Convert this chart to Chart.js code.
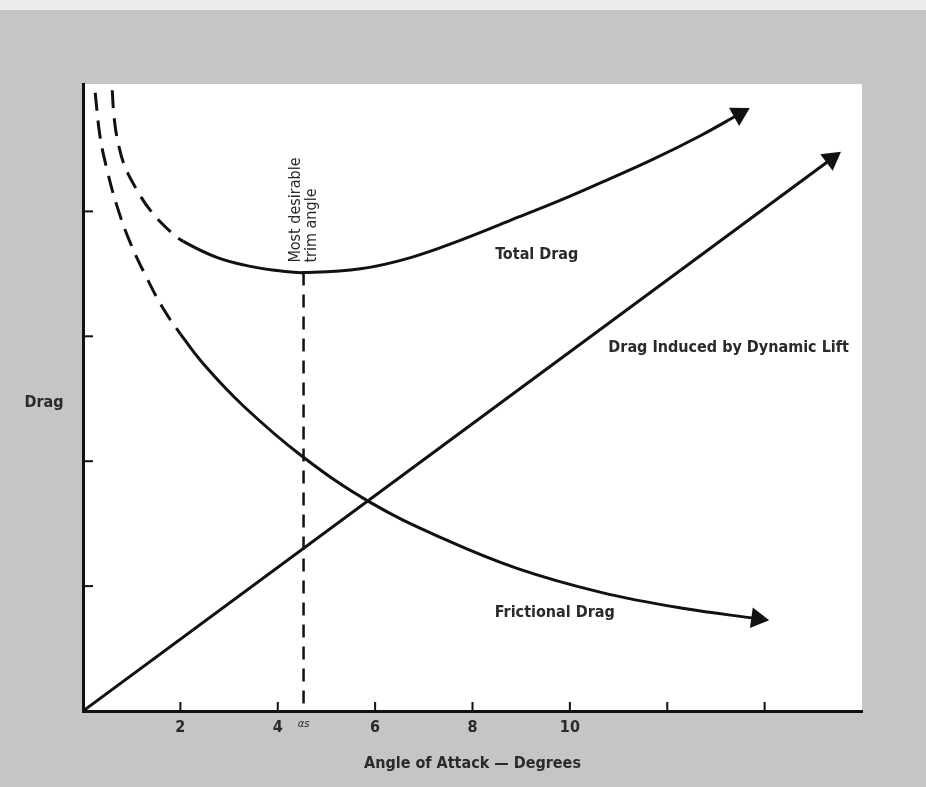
<!DOCTYPE html>
<html>
<head>
<meta charset="utf-8">
<script src="https://cdn.jsdelivr.net/npm/chart.js@4/dist/chart.umd.min.js"></script>
<style>
  html, body { margin: 0; padding: 0; background: #c5c5c5; }
  #wrap { width: 926px; height: 787px; }
</style>
</head>
<body>
<div id="wrap"><canvas id="drag-chart" width="926" height="787"></canvas></div>
<script>
// angle of attack (degrees) and drag
var fricX = [0.25, 0.35, 0.49, 0.70, 0.97, 1.32, 1.65, 2.00, 2.47, 3.30, 4.50, 5.90, 7.40, 8.93, 10.64, 12.35, 13.85];
var fricY = [4.95, 4.60, 4.34, 4.04, 3.75, 3.46, 3.22, 3.02, 2.78, 2.44, 2.04, 1.67, 1.38, 1.14, 0.95, 0.82, 0.74];
var fricDashEnd = 7;

var totX = [0.60, 0.64, 0.72, 0.86, 1.11, 1.38, 1.79, 2.06, 2.76, 3.44, 4.12, 4.53, 5.70, 6.73, 7.76, 8.79, 9.81, 10.64, 11.67, 12.70, 13.48];
var totY = [4.97, 4.75, 4.55, 4.36, 4.17, 4.01, 3.84, 3.76, 3.63, 3.56, 3.52, 3.51, 3.54, 3.63, 3.77, 3.93, 4.09, 4.23, 4.41, 4.61, 4.78];
var totDashEnd = 7;

var liftX = [0, 15.37];
var liftY = [0, 4.42];

var trimAngle = 4.53;
var trimX = [trimAngle, trimAngle];
var trimY = [3.51, 0];

var xTicks = [2, 4, trimAngle, 6, 8, 10, 12, 14];
var xTickLabels = ["2", "4", "αs", "6", "8", "10", "", ""];
var yTicks = [1, 2, 3, 4];

var fam = '"DejaVu Sans Condensed", "DejaVu Sans", sans-serif';
var labelFont = 'bold 16px ' + fam;

function pts(xs, ys) {
  return xs.map(function (x, i) { return { x: x, y: ys[i] }; });
}

// turn the last point into an arrow head pointing along the line
function arrowRot(ctx) {
  var d = ctx.dataset.data, i = ctx.dataIndex;
  if (i < 1) return 0;
  var sx = ctx.chart.scales.x, sy = ctx.chart.scales.y;
  var dx = sx.getPixelForValue(d[i].x) - sx.getPixelForValue(d[i - 1].x);
  var dy = sy.getPixelForValue(d[i].y) - sy.getPixelForValue(d[i - 1].y);
  return Math.atan2(dx, -dy) * 180 / Math.PI;
}
function arrowR(ctx) {
  return ctx.dataIndex === ctx.dataset.data.length - 1 ? 12 : 0;
}

function curve(label, xs, ys, dashEnd) {
  return {
    label: label,
    data: pts(xs, ys),
    borderColor: "#111",
    borderWidth: 3,
    tension: 0.4,
    pointStyle: "triangle",
    pointRadius: arrowR,
    pointRotation: arrowRot,
    pointBackgroundColor: "#111",
    pointBorderWidth: 0,
    segment: {
      borderDash: function (c) { return c.p1DataIndex <= dashEnd ? [18, 10] : undefined; }
    }
  };
}

var bgPlugin = {
  id: "paper",
  beforeDraw: function (chart) {
    var c = chart.ctx, a = chart.chartArea;
    c.save();
    c.fillStyle = "#c5c5c5";
    c.fillRect(0, 0, chart.width, chart.height);
    c.fillStyle = "#ececec";
    c.fillRect(0, 0, chart.width, 10);
    c.fillStyle = "#ffffff";
    c.fillRect(a.left, a.top, a.right - a.left, a.bottom - a.top);
    c.restore();
  }
};

var marksPlugin = {
  id: "marks",
  afterDraw: function (chart) {
    var c = chart.ctx, a = chart.chartArea;
    var sx = chart.scales.x, sy = chart.scales.y;
    c.save();
    c.strokeStyle = "#111";
    c.lineWidth = 2;
    xTicks.forEach(function (v) {
      if (v === trimAngle) return;
      var px = sx.getPixelForValue(v);
      c.beginPath(); c.moveTo(px, a.bottom); c.lineTo(px, a.bottom - 9); c.stroke();
    });
    yTicks.forEach(function (v) {
      var py = sy.getPixelForValue(v);
      c.beginPath(); c.moveTo(a.left, py); c.lineTo(a.left + 10, py); c.stroke();
    });

    c.fillStyle = "#2a2a2a";
    c.font = labelFont;
    c.textAlign = "center";
    c.textBaseline = "middle";
    c.fillText("Total Drag", sx.getPixelForValue(9.32), sy.getPixelForValue(3.65));
    c.fillText("Drag Induced by Dynamic Lift", sx.getPixelForValue(13.26), sy.getPixelForValue(2.91));
    c.fillText("Frictional Drag", sx.getPixelForValue(9.69), sy.getPixelForValue(0.785));
    c.fillText("Drag", 44, sy.getPixelForValue(2.47));

    c.font = '16px ' + fam;
    c.textAlign = "left";
    var base = sy.getPixelForValue(3.59);
    [["Most desirable", 4.37], ["trim angle", 4.70]].forEach(function (t) {
      c.save();
      c.translate(sx.getPixelForValue(t[1]), base);
      c.rotate(-Math.PI / 2);
      c.fillText(t[0], 0, 0);
      c.restore();
    });
    c.restore();
  }
};

new Chart(document.getElementById("drag-chart"), {
  type: "line",
  data: {
    datasets: [
      curve("Total Drag", totX, totY, totDashEnd),
      curve("Frictional Drag", fricX, fricY, fricDashEnd),
      curve("Drag Induced by Dynamic Lift", liftX, liftY, -1),
      {
        label: "Most desirable trim angle",
        data: pts(trimX, trimY),
        borderColor: "#111",
        borderWidth: 2.5,
        borderDash: [13, 9],
        pointRadius: 0
      }
    ]
  },
  options: {
    responsive: false,
    animation: false,
    events: [],
    layout: { padding: { left: 83, right: 64, top: 84, bottom: 0 } },
    plugins: { legend: { display: false }, tooltip: { enabled: false } },
    scales: {
      x: {
        type: "linear",
        min: 0,
        max: 16,
        afterFit: function (s) { s.height = 76; },
        afterBuildTicks: function (s) { s.ticks = xTicks.map(function (v) { return { value: v }; }); },
        grid: { display: false, drawTicks: false },
        border: { display: true, color: "#111", width: 3 },
        ticks: {
          autoSkip: false,
          maxRotation: 0,
          padding: 7,
          color: "#2a2a2a",
          font: function (c) {
            if (c.tick && c.tick.value === trimAngle) return { family: fam, size: 11, style: "italic" };
            return { family: fam, size: 16, weight: "bold" };
          },
          callback: function (v) {
            var i = xTicks.indexOf(v);
            return i < 0 ? "" : xTickLabels[i];
          }
        },
        title: {
          display: true,
          text: "Angle of Attack — Degrees",
          color: "#2a2a2a",
          font: { family: fam, size: 16, weight: "bold" },
          padding: { top: 4, bottom: 14 }
        }
      },
      y: {
        type: "linear",
        min: 0,
        max: 5.02,
        afterFit: function (s) { s.width = 0; },
        grid: { display: false, drawTicks: false },
        border: { display: true, color: "#111", width: 3 },
        ticks: { display: false }
      }
    }
  },
  plugins: [bgPlugin, marksPlugin]
});
</script>
</body>
</html>
